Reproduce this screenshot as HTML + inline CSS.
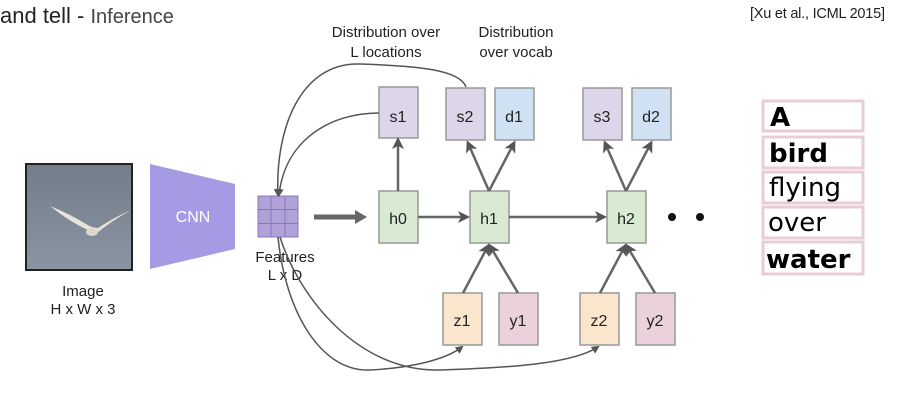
<!DOCTYPE html>
<html><head><meta charset="utf-8"><style>
html,body{margin:0;padding:0;background:#fff;width:897px;height:401px;overflow:hidden}
svg{display:block}
text{font-family:"Liberation Sans","Noto Sans CJK KR",sans-serif;fill:#222}
</style></head><body>
<svg width="897" height="401" viewBox="0 0 897 401" xmlns="http://www.w3.org/2000/svg">
<defs>
<marker id="a" markerWidth="8" markerHeight="8" refX="6" refY="4" orient="auto" markerUnits="userSpaceOnUse"><path d="M0,0 L8,4 L0,8 Z" fill="#555"/></marker>
<marker id="b" markerWidth="12" markerHeight="12" refX="9" refY="6" orient="auto" markerUnits="userSpaceOnUse"><path d="M0,0 L12,6 L0,12 L3,6 Z" fill="#555"/></marker>
<linearGradient id="w" x1="0" y1="0" x2="0" y2="1"><stop offset="0" stop-color="#737d8a"/><stop offset="1" stop-color="#8a94a2"/></linearGradient>
</defs>
<text x="0" y="23" font-size="22" style="fill:#222">and tell - <tspan font-size="20" style="fill:#444">Inference</tspan></text>
<text x="750" y="18" font-size="14.5" textLength="135">[Xu et al., ICML 2015]</text>
<text x="386" y="37" font-size="15" text-anchor="middle">Distribution over</text>
<text x="386" y="57" font-size="15" text-anchor="middle">L locations</text>
<text x="516" y="37" font-size="15" text-anchor="middle">Distribution</text>
<text x="516" y="57" font-size="15" text-anchor="middle">over vocab</text>
<rect x="26" y="164" width="106" height="106" fill="url(#w)" stroke="#222" stroke-width="2"/>
<path d="M50,206 Q70,222 88,230 Q92,235 97,233 Q110,222 131,210 Q115,217 98,228 Q92,228 86,224 Q70,214 50,206Z" fill="#e8e2dc"/>
<ellipse cx="92" cy="232" rx="6" ry="4" fill="#ddd6cf"/>
<polygon points="150,164 235,184 235,249 150,269" fill="#a49be4"/>
<text x="193" y="222" font-size="16" text-anchor="middle" style="fill:#fff">CNN</text>
<rect x="258" y="196" width="40" height="41" fill="#b0a2d8" stroke="#8877bb"/>
<path d="M271,196V237M285,196V237M258,209.5H298M258,223.5H298" stroke="#8877bb"/>
<text x="285" y="262" font-size="15" text-anchor="middle">Features</text>
<text x="285" y="280" font-size="15" text-anchor="middle">L x D</text>
<text x="83" y="296" font-size="15" text-anchor="middle">Image</text>
<text x="83" y="314" font-size="15" text-anchor="middle">H x W x 3</text>
<line x1="314" y1="217" x2="356" y2="217" stroke="#666" stroke-width="5"/>
<polygon points="355,210 367,217 355,224" fill="#666"/>
<g stroke="#999" stroke-width="1.5">
<rect x="379" y="87" width="39" height="51" fill="#ddd5ea"/>
<rect x="446" y="88" width="39" height="52" fill="#ddd5ea"/>
<rect x="495" y="88" width="39" height="52" fill="#cfe1f2"/>
<rect x="583" y="88" width="39" height="52" fill="#ddd5ea"/>
<rect x="632" y="88" width="39" height="52" fill="#cfe1f2"/>
<rect x="379" y="191" width="39" height="52" fill="#d9ead3"/>
<rect x="470" y="191" width="39" height="52" fill="#d9ead3"/>
<rect x="607" y="191" width="39" height="52" fill="#d9ead3"/>
<rect x="443" y="293" width="39" height="52" fill="#fce5cd"/>
<rect x="499" y="293" width="39" height="52" fill="#ead1dc"/>
<rect x="580" y="293" width="39" height="52" fill="#fce5cd"/>
<rect x="636" y="293" width="39" height="52" fill="#ead1dc"/>
</g>
<g font-size="16" text-anchor="middle">
<text x="398" y="122">s1</text><text x="465" y="122">s2</text><text x="514" y="122">d1</text>
<text x="602" y="122">s3</text><text x="651" y="122">d2</text>
<text x="398" y="224">h0</text><text x="489" y="224">h1</text><text x="626" y="224">h2</text>
<text x="462" y="326">z1</text><text x="518" y="326">y1</text><text x="599" y="326">z2</text><text x="655" y="326">y2</text>
</g>
<circle cx="672" cy="217" r="4" fill="#111"/><circle cx="700" cy="217" r="4" fill="#111"/>
<g stroke="#666" stroke-width="2.5" fill="none" marker-end="url(#b)">
<line x1="398" y1="191" x2="398" y2="140"/>
<line x1="489" y1="191" x2="468" y2="143"/>
<line x1="489" y1="191" x2="514" y2="143"/>
<line x1="626" y1="191" x2="605" y2="143"/>
<line x1="626" y1="191" x2="651" y2="143"/>
<line x1="418" y1="217" x2="467" y2="217"/>
<line x1="509" y1="217" x2="604" y2="217"/>
<line x1="463" y1="293" x2="488" y2="246"/>
<line x1="518" y1="293" x2="490" y2="246"/>
<line x1="600" y1="293" x2="625" y2="246"/>
<line x1="655" y1="293" x2="627" y2="246"/>
</g>
<g stroke="#555" stroke-width="1.5" fill="none" marker-end="url(#a)">
<path d="M466,87 C460,70 420,66 360,64 C300,62 275,130 278,195"/>
<path d="M379,113 C330,113 285,140 279,195"/>
<path d="M278,237 C285,310 320,372 370,370 C410,368 445,360 462,347"/>
<path d="M280,237 C300,300 360,372 440,370 C500,368 570,365 598,347"/>
</g>
<g fill="#fff" stroke="#e8ccd8" stroke-width="3">
<rect x="763" y="101" width="100" height="30"/>
<rect x="763" y="137" width="100" height="31"/>
<rect x="763" y="172" width="100" height="31"/>
<rect x="763" y="207" width="100" height="31"/>
<rect x="763" y="242" width="100" height="32"/>
</g>
<g font-size="26">
<text x="770" y="126" font-weight="bold" style="fill:#000;font-family:'DejaVu Sans',sans-serif">A</text>
<text x="769" y="162" font-weight="bold" style="fill:#000;font-family:'DejaVu Sans',sans-serif">bird</text>
<text x="769" y="196" style="fill:#000;font-family:'DejaVu Sans',sans-serif">flying</text>
<text x="768" y="231" style="fill:#000;font-family:'DejaVu Sans',sans-serif">over</text>
<text x="766" y="268" font-weight="bold" style="fill:#000;font-family:'DejaVu Sans',sans-serif">water</text>
</g>
</svg>
</body></html>
